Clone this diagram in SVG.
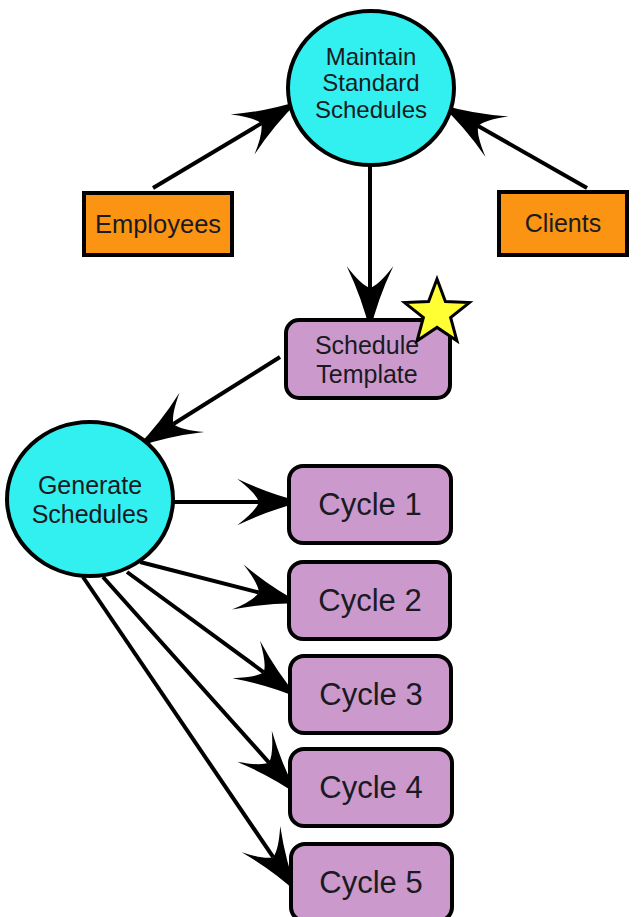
<svg xmlns="http://www.w3.org/2000/svg" width="642" height="917" viewBox="0 0 642 917">
<style>
.proc{fill:#33F0F0;stroke:#000;stroke-width:4}
.ext{fill:#FA9412;stroke:#000;stroke-width:4}
.store{fill:#CC99CC;stroke:#000;stroke-width:4}
.star{fill:#FFFF33;stroke:#000;stroke-width:3;stroke-linejoin:miter}
.t{font-family:"Liberation Sans",Arial,sans-serif;fill:#1a1a22;text-anchor:middle}
.c{stroke:#000;stroke-width:4;fill:none}
</style>
<defs>
<marker id="ah" markerUnits="userSpaceOnUse" markerWidth="80" markerHeight="60" viewBox="-20 -20 55 40" refX="0" refY="0" orient="auto" overflow="visible">
<path d="M30,0 Q8,-5 -15,-16 Q-2,-6 0,0 Q-2,6 -15,16 Q8,5 30,0 Z" fill="#000"/>
</marker>
</defs>
<g id="connectors">
<line class="c" x1="153" y1="188" x2="261.3" y2="123.4" marker-end="url(#ah)"/>
<line class="c" x1="587" y1="188" x2="478.1" y2="125.9" marker-end="url(#ah)"/>
<line class="c" x1="370" y1="165" x2="370" y2="288" marker-end="url(#ah)"/>
<line class="c" x1="280" y1="357" x2="173.4" y2="424" marker-end="url(#ah)"/>
<line class="c" x1="173" y1="502" x2="259" y2="502" marker-end="url(#ah)"/>
<line class="c" x1="140" y1="562" x2="258.9" y2="592.5" marker-end="url(#ah)"/>
<line class="c" x1="127" y1="572" x2="263.8" y2="672.3" marker-end="url(#ah)"/>
<line class="c" x1="103" y1="577" x2="269" y2="762.6" marker-end="url(#ah)"/>
<line class="c" x1="83" y1="577" x2="273.2" y2="857.2" marker-end="url(#ah)"/>
</g>
<g id="maintain">
<ellipse class="proc" cx="371" cy="88" rx="83" ry="77"/>
<text class="t" x="371" y="65" font-size="24">Maintain</text>
<text class="t" x="371" y="91" font-size="24">Standard</text>
<text class="t" x="371" y="118" font-size="24">Schedules</text>
</g>
<g id="employees">
<rect class="ext" x="84" y="193" width="148" height="62"/>
<text class="t" x="158" y="233" font-size="25.5">Employees</text>
</g>
<g id="clients">
<rect class="ext" x="499" y="192" width="128" height="63"/>
<text class="t" x="563" y="232" font-size="25">Clients</text>
</g>
<g id="template">
<rect class="store" x="286" y="320" width="164" height="78" rx="13"/>
<text class="t" x="367" y="354" font-size="25">Schedule</text>
<text class="t" x="367" y="383" font-size="25">Template</text>
<polygon class="star" points="437,279 445.4,301.5 469.4,302.6 450.6,317.5 456.9,340.7 437,327.4 417.1,340.7 423.4,317.5 404.6,302.6 428.6,301.5"/>
</g>
<g id="generate">
<ellipse class="proc" cx="90" cy="499" rx="83" ry="77"/>
<text class="t" x="90" y="494" font-size="25">Generate</text>
<text class="t" x="90" y="523" font-size="25">Schedules</text>
</g>
<g id="cycle1">
<rect class="store" x="289" y="466" width="162" height="77" rx="14"/>
<text class="t" x="370" y="515" font-size="31">Cycle 1</text>
</g>
<g id="cycle2">
<rect class="store" x="289" y="562" width="161" height="77" rx="14"/>
<text class="t" x="370" y="611" font-size="31">Cycle 2</text>
</g>
<g id="cycle3">
<rect class="store" x="290" y="656" width="161" height="77" rx="14"/>
<text class="t" x="371" y="705" font-size="31">Cycle 3</text>
</g>
<g id="cycle4">
<rect class="store" x="290" y="749" width="162" height="77" rx="14"/>
<text class="t" x="371" y="798" font-size="31">Cycle 4</text>
</g>
<g id="cycle5">
<rect class="store" x="291" y="844" width="161" height="77" rx="14"/>
<text class="t" x="371" y="893" font-size="31">Cycle 5</text>
</g>
</svg>
